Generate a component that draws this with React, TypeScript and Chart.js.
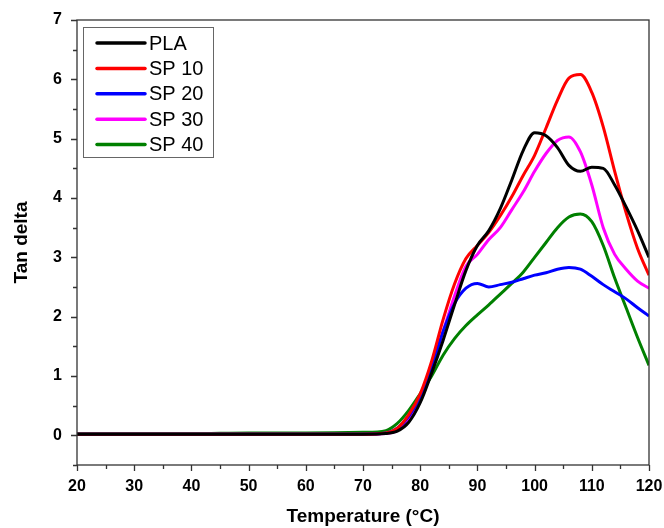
import React, { useEffect, useRef } from "react";
import { Chart, registerables } from "chart.js";

Chart.register(...registerables);

const temps = [20, 30, 40, 50, 60, 70, 74, 76, 78, 80, 82, 84, 86, 88, 90, 92, 94, 96, 98, 100, 102, 104, 106, 108, 110, 112, 114, 116, 118, 120];

const pla = [0.02, 0.02, 0.02, 0.02, 0.02, 0.02, 0.03, 0.07, 0.22, 0.55, 1.05, 1.6, 2.2, 2.78, 3.2, 3.45, 3.82, 4.3, 4.8, 5.1, 5.05, 4.85, 4.55, 4.45, 4.52, 4.5, 4.22, 3.85, 3.45, 3.0];
const sp10 = [0.02, 0.02, 0.02, 0.02, 0.02, 0.02, 0.04, 0.12, 0.35, 0.7, 1.25, 1.95, 2.55, 2.98, 3.2, 3.42, 3.7, 4.02, 4.38, 4.72, 5.18, 5.65, 6.02, 6.08, 5.78, 5.2, 4.45, 3.75, 3.15, 2.7];
const sp20 = [0.02, 0.02, 0.02, 0.02, 0.02, 0.02, 0.04, 0.12, 0.32, 0.65, 1.15, 1.75, 2.22, 2.48, 2.56, 2.5, 2.54, 2.58, 2.64, 2.7, 2.74, 2.8, 2.83, 2.8, 2.68, 2.54, 2.42, 2.3, 2.15, 2.01];
const sp30 = [0.02, 0.02, 0.02, 0.02, 0.02, 0.02, 0.03, 0.08, 0.28, 0.65, 1.15, 1.75, 2.35, 2.85, 3.05, 3.3, 3.5, 3.8, 4.1, 4.45, 4.75, 4.97, 5.03, 4.78, 4.22, 3.5, 3.05, 2.8, 2.6, 2.48];
const sp40 = [0.03, 0.03, 0.03, 0.04, 0.04, 0.05, 0.08, 0.2, 0.42, 0.7, 1.0, 1.35, 1.63, 1.85, 2.03, 2.2, 2.38, 2.56, 2.75, 3.0, 3.25, 3.5, 3.68, 3.73, 3.6, 3.2, 2.65, 2.15, 1.65, 1.18];

const seriesNames = ["PLA", "SP 10", "SP 20", "SP 30", "SP 40"];
const seriesColors = ["#000000", "#ff0000", "#0000ff", "#ff00ff", "#008000"];
const seriesValues = [pla, sp10, sp20, sp30, sp40];

const xTicks = [20, 30, 40, 50, 60, 70, 80, 90, 100, 110, 120];
const yTicks = [0, 1, 2, 3, 4, 5, 6, 7];

const FONT = "'Liberation Sans', Arial, sans-serif";

const framePlugin = {
  id: "frame",
  afterDraw(chart: any) {
    const { ctx, chartArea: a, scales } = chart;
    const xs = scales.x;
    const ys = scales.y;
    ctx.save();
    ctx.strokeStyle = "#333";
    ctx.lineWidth = 1.3;
    ctx.strokeRect(a.left, a.top, a.right - a.left, a.bottom - a.top);
    ctx.beginPath();
    for (let v = 20; v <= 120; v += 5) {
      const px = Math.round(xs.getPixelForValue(v)) + 0.5;
      const len = v % 10 === 0 ? 6 : 4;
      ctx.moveTo(px, a.bottom);
      ctx.lineTo(px, a.bottom + len);
    }
    for (let v = -0.5; v <= 7; v += 0.5) {
      const py = Math.round(ys.getPixelForValue(v)) + 0.5;
      const len = Math.abs(v - Math.round(v)) < 1e-6 ? 6 : 4;
      ctx.moveTo(a.left, py);
      ctx.lineTo(a.left - len, py);
    }
    ctx.stroke();
    // legend
    const lx = 83, ly = 27, lw = 130, lh = 130;
    ctx.strokeStyle = "#666";
    ctx.lineWidth = 1;
    ctx.strokeRect(lx + 0.5, ly + 0.5, lw, lh);
    ctx.font = `20px ${FONT}`;
    ctx.textBaseline = "middle";
    seriesNames.forEach((n, i) => {
      const yy = ly + 16 + i * 25.4;
      ctx.strokeStyle = seriesColors[i];
      ctx.lineWidth = 3.5;
      ctx.lineCap = "round";
      ctx.beginPath();
      ctx.moveTo(97, yy);
      ctx.lineTo(145, yy);
      ctx.stroke();
      ctx.fillStyle = "#000";
      ctx.fillText(n, 149, yy + 1);
    });
    ctx.restore();
  },
};

export default function App() {
  const ref = useRef<HTMLCanvasElement>(null);
  useEffect(() => {
    document.body.style.margin = "0";
    const datasets = seriesNames.map((name, i) => ({
      label: name,
      data: temps.map((t, j) => ({ x: t, y: seriesValues[i][j] })),
      borderColor: seriesColors[i],
      backgroundColor: seriesColors[i],
      borderWidth: 3,
      pointRadius: 0,
      cubicInterpolationMode: "monotone" as const,
      fill: false,
    }));
    const chart = new Chart(ref.current!, {
      type: "line",
      data: { datasets },
      options: {
        responsive: false,
        animation: false,
        layout: { padding: { top: 20, right: 15, left: 0, bottom: 0 } },
        plugins: { legend: { display: false }, tooltip: { enabled: false } },
        scales: {
          x: {
            type: "linear",
            min: 20,
            max: 120,
            afterFit: (s: any) => { s.height = 63; s.paddingLeft = 0; s.paddingRight = 0; },
            afterBuildTicks: (s: any) => { s.ticks = xTicks.map((v) => ({ value: v })); },
            grid: { display: false, drawTicks: false },
            border: { display: false },
            ticks: { color: "#000", padding: 12, font: { family: FONT, size: 16, weight: "bold" } },
            title: { display: true, text: "Temperature (°C)", color: "#000", padding: { top: 4, bottom: 0 }, font: { family: FONT, size: 19, weight: "bold" } },
          },
          y: {
            type: "linear",
            min: -0.5,
            max: 7,
            afterFit: (s: any) => { s.width = 77; s.paddingTop = 0; s.paddingBottom = 0; },
            afterBuildTicks: (s: any) => { s.ticks = yTicks.map((v) => ({ value: v })); },
            grid: { display: false, drawTicks: false },
            border: { display: false },
            ticks: { color: "#000", padding: 15, font: { family: FONT, size: 16, weight: "bold" } },
            title: { display: true, text: "Tan delta", color: "#000", padding: { top: 10, bottom: 0 }, font: { family: FONT, size: 19, weight: "bold" } },
          },
        },
      },
      plugins: [framePlugin],
    });
    return () => chart.destroy();
  }, []);
  return (
    <div style={{ width: 664, height: 528 }}>
      <canvas ref={ref} width={664} height={528} style={{ display: "block" }} />
    </div>
  );
}
